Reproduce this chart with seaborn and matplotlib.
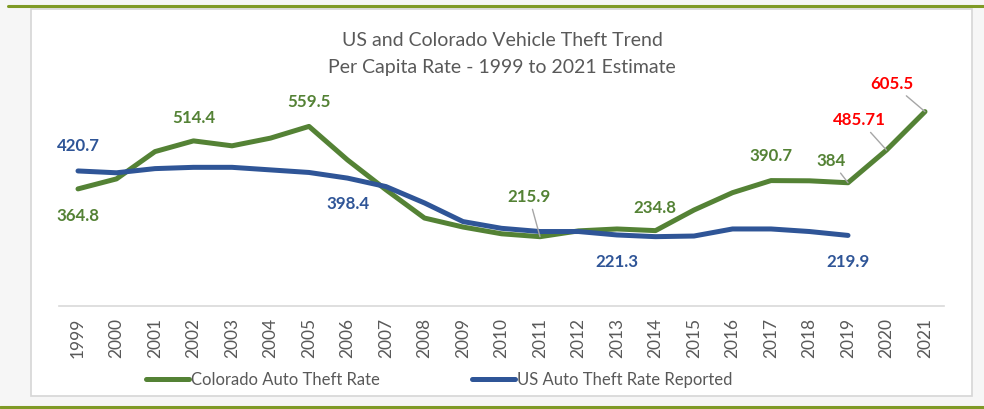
import numpy as np
import pandas as pd
import matplotlib
matplotlib.use("Agg")
import matplotlib.pyplot as plt
from matplotlib.lines import Line2D
from matplotlib.patches import Rectangle
import seaborn as sns

# data
years = [str(y) for y in range(1999, 2022)]
colorado = [364.8, 396, 481, 514.4, 499, 523, 559.5, 455, 362, 274, 246, 225,
            215.9, 234, 240, 234.8, 299, 353, 390.7, 390, 384, 485.71, 605.5]
us = [420.7, 415, 428, 432, 432, 424, 416, 398.4, 372, 321, 263, 242,
      232, 232, 221.3, 216, 218, 240, 240, 232, 219.9, np.nan, np.nan]

co_name = "Colorado Auto Theft Rate"
us_name = "US Auto Theft Rate Reported"
GREEN = "#548235"
BLUE = "#2F5597"
GREY_TXT = "#595959"

# labelled points: (series, index, text, dx px, dy px, colour, leader)
labels = [
    ("us", 0, "420.7", 0, 25, BLUE, False),
    ("co", 0, "364.8", 0, -27, GREEN, False),
    ("co", 3, "514.4", 0, 23, GREEN, False),
    ("co", 6, "559.5", 0, 24, GREEN, False),
    ("us", 7, "398.4", 0, -26, BLUE, False),
    ("co", 12, "215.9", -11, 40, GREEN, True),
    ("us", 14, "221.3", 0, -27, BLUE, False),
    ("co", 15, "234.8", -1, 23, GREEN, False),
    ("co", 18, "390.7", 0, 25, GREEN, False),
    ("co", 20, "384", -17, 22, GREEN, True),
    ("co", 21, "485.71", -27, 30, "#FF0000", True),
    ("co", 22, "605.5", -33, 28, "#FF0000", True),
    ("us", 20, "219.9", 0, -27, BLUE, False),
]

df = pd.DataFrame({
    "year": years * 2,
    "rate": colorado + us,
    "series": [co_name] * len(years) + [us_name] * len(years),
})
df["x"] = list(range(len(years))) * 2

sns.set_style("white")
plt.rcParams["font.family"] = ["Lato", "DejaVu Sans"]

fig = plt.figure(figsize=(9.84, 4.09), dpi=100, facecolor="#f6f6f6")

# slide panel and olive rules
fig.add_artist(Rectangle((31 / 984, 1 - 396 / 409), (972 - 31) / 984, (396 - 9) / 409,
                         transform=fig.transFigure, facecolor="white",
                         edgecolor="#d6d6d6", lw=1.2, zorder=0))
fig.add_artist(Line2D([8 / 984, 1], [1 - 5.5 / 409] * 2, transform=fig.transFigure,
                      color="#7f9a26", lw=2.2))
fig.add_artist(Line2D([0, 1], [1 - 406.5 / 409] * 2, transform=fig.transFigure,
                      color="#7f9a26", lw=2.2))

ax = fig.add_axes([58.75 / 984, (409 - 306) / 409, 885.5 / 984, (306 - 81.3) / 409])
ax.set_facecolor("none")

sns.lineplot(data=df, x="x", y="rate", hue="series",
             palette={co_name: GREEN, us_name: BLUE},
             linewidth=3.6, ax=ax, legend=False)

ax.set_xlim(-0.5, len(years) - 0.5)
ax.set_ylim(0, 700)
ax.set_xticks(range(len(years)))
ax.set_xticklabels(years)
ax.set_yticks([])
ax.set_xlabel("")
ax.set_ylabel("")
for s in ["left", "top", "right"]:
    ax.spines[s].set_visible(False)
ax.spines["bottom"].set_color("#d9d9d9")
ax.spines["bottom"].set_linewidth(1.2)
ax.tick_params(axis="x", direction="inout", length=7, width=1, color="#d9d9d9",
               labelrotation=90, labelcolor=GREY_TXT, labelsize=12.5, pad=5)

# data labels
for ser, i, txt, dx, dy, col, leader in labels:
    yv = colorado[i] if ser == "co" else us[i]
    kw = {}
    if leader:
        kw["arrowprops"] = dict(arrowstyle="-", color="#a6a6a6", lw=1,
                                shrinkA=1, shrinkB=0)
    ax.annotate(txt, xy=(i, yv), xytext=(dx, dy), textcoords="offset pixels",
                ha="center", va="center", fontsize=12.2, fontweight="bold",
                color=col, **kw)

# title
fig.text(502 / 984, 1 - 40 / 409, "US and Colorado Vehicle Theft Trend",
         ha="center", va="center", fontsize=14, color=GREY_TXT)
fig.text(502 / 984, 1 - 67 / 409, "Per Capita Rate - 1999 to 2021 Estimate",
         ha="center", va="center", fontsize=14, color=GREY_TXT)

handles = [Line2D([], [], color=GREEN, lw=3.6, solid_capstyle="round"),
           Line2D([], [], color=BLUE, lw=3.6, solid_capstyle="round")]
leg = ax.legend(handles, [co_name, us_name], loc="center",
                bbox_to_anchor=(439 / 984, 1 - 380 / 409),
                bbox_transform=fig.transFigure, ncol=2, frameon=False,
                handlelength=2.6, handletextpad=0.1, columnspacing=5.5,
                fontsize=12)
for t in leg.get_texts():
    t.set_color(GREY_TXT)

fig.savefig("out.png", dpi=100, facecolor=fig.get_facecolor())
